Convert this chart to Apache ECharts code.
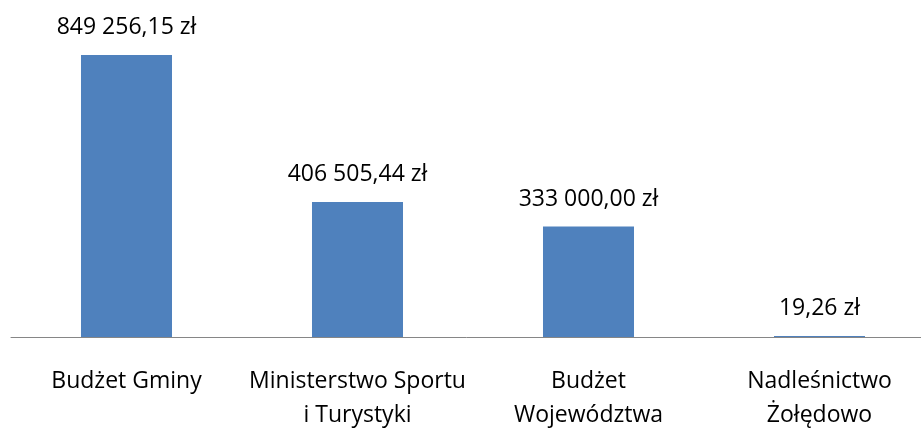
<!DOCTYPE html>
<html>
<head>
<meta charset="utf-8">
<script src="https://cdn.jsdelivr.net/npm/echarts@6/dist/echarts.min.js"></script>
<style>
  html, body { margin: 0; padding: 0; background: #fff; }
  #chart { width: 921px; height: 431px; }
</style>
</head>
<body>
<div id="chart"></div>
<script>
// dane
const categories = ['Budżet Gminy', 'Ministerstwo Sportu\ni Turystyki', 'Budżet\nWojewództwa', 'Nadleśnictwo\nŻołędowo'];
const amounts = [849256.15, 406505.44, 333000.00, 19.26];

const fontFamily = '"Open Sans", "Noto Sans", sans-serif';

function formatZl(v) {
    let parts = v.toFixed(2).split('.');
    let whole = parts[0].replace(/\B(?=(\d{3})+(?!\d))/g, ' ');
    return whole + ',' + parts[1] + ' zł';
}

let myChart = echarts.init(document.getElementById('chart'));
myChart.setOption({
    backgroundColor: '#fff',
    animation: false,
    grid: {left: 11, width: 924, top: 20, bottom: 94, outerBoundsMode: 'none'},
    xAxis: {
        type: 'category',
        data: categories,
        axisLine: {lineStyle: {color: '#868686', width: 1}},
        axisTick: {show: false},
        axisLabel: {
            color: '#000',
            fontSize: 23,
            fontFamily: fontFamily,
            lineHeight: 34,
            margin: 27,
            interval: 0
        }
    },
    yAxis: {
        type: 'value',
        min: 0,
        max: 955000,
        show: false,
        splitLine: {show: false}
    },
    series: [{
        type: 'bar',
        data: amounts,
        barWidth: '39.4%',
        barMinHeight: 1,
        itemStyle: {color: '#4F81BD'},
        label: {
            show: true,
            position: 'top',
            distance: 16,
            color: '#000',
            fontSize: 23,
            fontFamily: fontFamily,
            formatter: function (p) { return formatZl(p.value); }
        }
    }]
});
</script>
</body>
</html>
